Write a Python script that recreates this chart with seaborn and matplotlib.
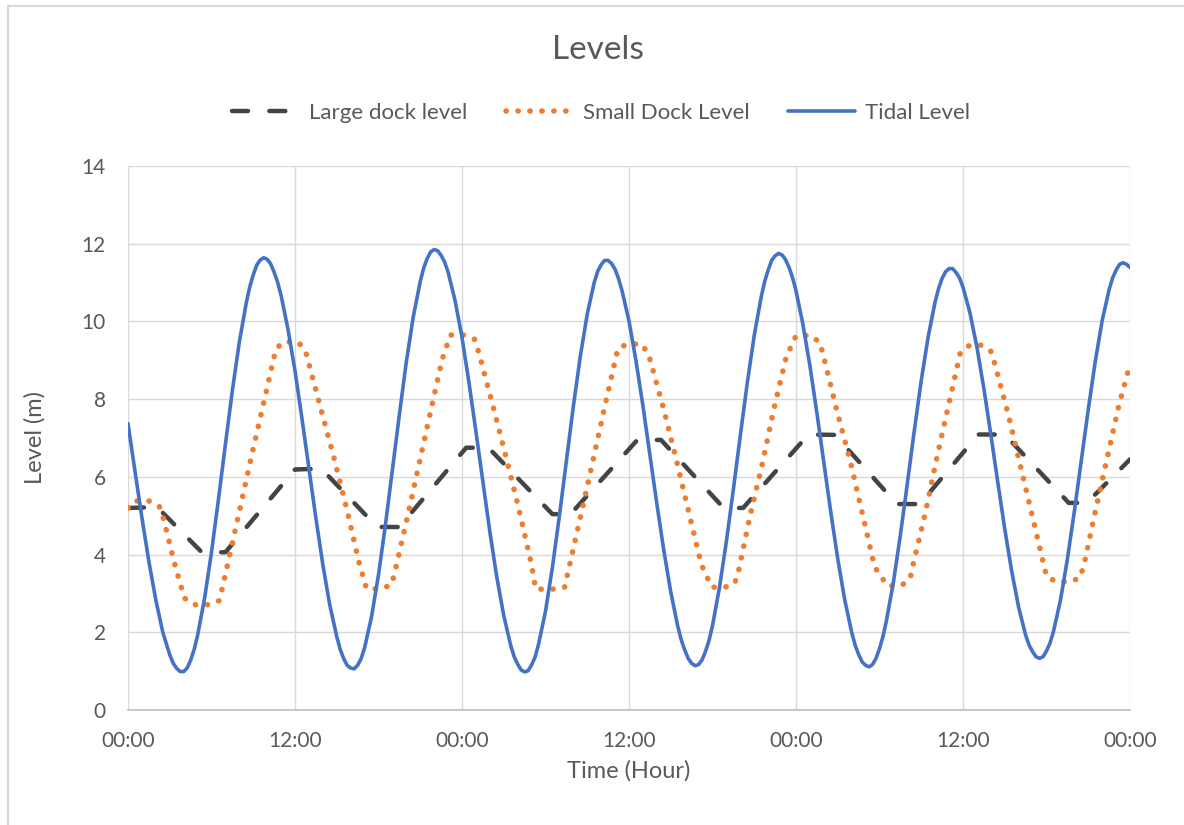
import numpy as np
import pandas as pd
import matplotlib
matplotlib.use("Agg")
import matplotlib.pyplot as plt
from matplotlib.lines import Line2D
import seaborn as sns

# Tidal level (m), one reading every half hour over three days
tide_hours = np.arange(0, 72.5, 0.5)
tide_level = [
    7.37, 6.15, 4.95, 3.82, 2.83, 2.00, 1.42, 1.07, 0.99, 1.28, 1.92, 2.87,
    4.06, 5.42, 6.84, 8.22, 9.47, 10.48, 11.20, 11.58, 11.60, 11.27, 10.67, 9.79,
    8.73, 7.50, 6.22, 4.94, 3.74, 2.70, 1.89, 1.32, 1.08, 1.15, 1.60, 2.40,
    3.48, 4.77, 6.18, 7.60, 8.96, 10.12, 11.03, 11.62, 11.85, 11.70, 11.27, 10.54,
    9.59, 8.43, 7.17, 5.87, 4.59, 3.42, 2.43, 1.66, 1.18, 0.98, 1.16, 1.69,
    2.54, 3.68, 5.00, 6.41, 7.81, 9.10, 10.19, 11.00, 11.46, 11.57, 11.34, 10.79,
    10.01, 8.99, 7.83, 6.58, 5.31, 4.11, 3.04, 2.16, 1.55, 1.20, 1.17, 1.51,
    2.17, 3.15, 4.34, 5.68, 7.07, 8.42, 9.64, 10.63, 11.32, 11.69, 11.71, 11.39,
    10.79, 9.92, 8.86, 7.65, 6.37, 5.09, 3.89, 2.84, 2.00, 1.43, 1.15, 1.17,
    1.58, 2.30, 3.29, 4.50, 5.83, 7.19, 8.48, 9.61, 10.51, 11.11, 11.36, 11.26,
    10.88, 10.22, 9.34, 8.27, 7.09, 5.86, 4.66, 3.57, 2.64, 1.93, 1.50, 1.33,
    1.52, 2.02, 2.82, 3.88, 5.11, 6.42, 7.73, 8.96, 10.02, 10.82, 11.32, 11.51,
    11.39,
]

# Extra quarter-hour readings around each high and low water
tide_extra_hours = [3.25, 3.75, 4.25, 4.75,
                    8.75, 9.25, 9.75, 10.25, 10.75,
                    15.25, 15.75, 16.25, 16.75,
                    21.25, 21.75, 22.25, 22.75,
                    27.75, 28.25, 28.75, 29.25,
                    33.75, 34.25, 34.75, 35.25,
                    39.75, 40.25, 40.75, 41.25, 41.75,
                    45.75, 46.25, 46.75, 47.25, 47.75,
                    52.25, 52.75, 53.25, 53.75, 54.25,
                    58.25, 58.75, 59.25, 59.75,
                    64.75, 65.25, 65.75, 66.25,
                    70.75, 71.25, 71.75]
tide_extra_level = [1.20, 0.99, 1.08, 1.55,
                    10.89, 11.45, 11.64, 11.48, 11.01,
                    1.56, 1.15, 1.06, 1.32,
                    11.38, 11.79, 11.82, 11.53,
                    1.37, 1.03, 1.01, 1.36,
                    11.29, 11.57, 11.49, 11.10,
                    1.81, 1.33, 1.14, 1.29, 1.79,
                    11.03, 11.57, 11.75, 11.59, 11.13,
                    1.67, 1.24, 1.11, 1.33, 1.89,
                    10.85, 11.28, 11.36, 11.12,
                    1.67, 1.37, 1.37, 1.72,
                    11.12, 11.47, 11.47]

# Large dock level (m) at its turning points: holds, then fills or drains
large_hours = [0.0, 2.1, 5.3, 7.0, 12.0, 13.9, 17.9, 19.5, 24.3, 25.9,
               30.5, 31.8, 36.6, 38.3, 42.8, 44.2, 48.9, 50.8, 55.25, 56.9,
               61.1, 63.0, 67.6, 68.9, 72.0]
large_level = [5.20, 5.22, 4.06, 4.06, 6.19, 6.21, 4.71, 4.71, 6.75, 6.75,
               5.04, 5.04, 6.95, 6.95, 5.20, 5.20, 7.09, 7.08, 5.30, 5.30,
               7.09, 7.09, 5.33, 5.33, 6.45]

# Small dock level (m)
small_hours = [0.0, 0.5, 1.5, 2.26, 2.57, 3.27, 3.80, 4.09, 4.78, 5.75,
               6.54, 6.78, 7.20, 8.05, 8.89, 9.76, 10.62, 11.13, 12.24, 12.76,
               13.77, 14.78, 15.72, 16.60, 17.14, 18.15, 18.94, 19.18, 20.05, 20.89,
               21.73, 22.57, 23.17, 24.10, 24.90, 25.20, 26.20, 27.17, 28.10, 28.97,
               29.30, 30.50, 31.37, 31.80, 32.66, 33.50, 34.34, 35.20, 35.90, 36.90,
               37.40, 38.45, 39.40, 40.30, 41.20, 41.95, 42.90, 43.60, 43.90, 44.70,
               45.60, 46.40, 47.30, 48.00, 49.00, 49.70, 49.96, 50.90, 51.90, 52.77,
               53.65, 54.56, 55.57, 56.20, 56.40, 57.30, 58.10, 58.95, 59.80, 60.40,
               61.30, 62.00, 62.30, 63.30, 64.20, 65.10, 66.00, 66.70, 67.70, 68.40,
               68.70, 69.50, 70.35, 71.20, 72.00]
small_level = [5.20, 5.38, 5.38, 5.23, 4.90, 3.87, 3.19, 2.87, 2.71, 2.71,
               2.81, 3.14, 3.82, 5.19, 6.56, 7.92, 9.28, 9.47, 9.47, 9.23,
               7.87, 6.52, 5.17, 3.80, 3.12, 3.12, 3.22, 3.56, 4.92, 6.29,
               7.66, 9.02, 9.65, 9.65, 9.54, 9.21, 7.86, 6.50, 5.15, 3.78,
               3.11, 3.11, 3.16, 3.84, 5.20, 6.57, 7.94, 9.30, 9.42, 9.42,
               9.16, 7.80, 6.44, 5.08, 3.74, 3.16, 3.16, 3.26, 3.62, 5.00,
               6.37, 7.73, 9.09, 9.63, 9.64, 9.47, 9.13, 7.76, 6.40, 5.05,
               3.68, 3.20, 3.20, 3.38, 3.72, 5.08, 6.46, 7.83, 9.18, 9.37,
               9.39, 9.23, 8.89, 7.54, 6.17, 4.81, 3.44, 3.30, 3.30, 3.40,
               3.74, 5.10, 6.47, 7.84, 8.90]

series_names = ["Large dock level", "Small Dock Level", "Tidal Level"]
series_colors = ["#444444", "#ED7D31", "#4472C4"]
hour_ticks = [0, 12, 24, 36, 48, 60, 72]
hour_labels = ["00:00", "12:00", "00:00", "12:00", "00:00", "12:00", "00:00"]
level_ticks = [0, 2, 4, 6, 8, 10, 12, 14]

large_df = pd.DataFrame({"hour": large_hours, "level": large_level})
small_df = pd.DataFrame({"hour": small_hours, "level": small_level})
tide_df = pd.concat([
    pd.DataFrame({"hour": tide_hours, "level": tide_level}),
    pd.DataFrame({"hour": tide_extra_hours, "level": tide_extra_level}),
], ignore_index=True).sort_values("hour")

sns.set_theme(style="white")
plt.rcParams["font.family"] = ["Lato", "DejaVu Sans"]

W, H = 1184, 825
text_color = "#595959"
fig = plt.figure(figsize=(W / 100, H / 100), dpi=100)
fig.patch.set_facecolor("white")
ax = fig.add_axes([128 / W, 1 - 710 / H, (1130 - 128) / W, (710 - 166) / H])

sns.lineplot(data=large_df, x="hour", y="level", ax=ax, color=series_colors[0],
             linewidth=3.2, estimator=None, sort=False, legend=False,
             label=series_names[0])
sns.lineplot(data=small_df, x="hour", y="level", ax=ax, color=series_colors[1],
             linewidth=4.0, estimator=None, sort=False, legend=False,
             label=series_names[1])
sns.lineplot(data=tide_df, x="hour", y="level", ax=ax, color=series_colors[2],
             linewidth=2.6, estimator=None, sort=False, legend=False,
             label=series_names[2])

large_line, small_line, tide_line = ax.lines[:3]
large_line.set_dashes([3.6, 4.8])
large_line.set_dash_capstyle("round")
small_line.set_dashes([0.05, 2.1])
small_line.set_dash_capstyle("round")
tide_line.set_solid_capstyle("round")
tide_line.set_solid_joinstyle("round")

ax.set_xlim(0, 72)
ax.set_ylim(0, 14)
ax.set_xticks(hour_ticks)
ax.set_xticklabels(hour_labels)
ax.set_yticks(level_ticks)
ax.grid(True, color="#D9D9D9", linewidth=1.0)
ax.set_axisbelow(True)
for side in ["top", "right", "left"]:
    ax.spines[side].set_visible(False)
ax.spines["bottom"].set_color("#BFBFBF")
ax.spines["bottom"].set_linewidth(1.2)
ax.tick_params(axis="both", length=0, labelsize=15, labelcolor=text_color)
ax.tick_params(axis="x", pad=15)
ax.tick_params(axis="y", pad=16)

ax.set_xlabel("Time (Hour)", fontsize=17, color=text_color)
ax.set_ylabel("Level (m)", fontsize=17, color=text_color)
ax.xaxis.set_label_coords(0.5, -0.092)
ax.yaxis.set_label_coords(-0.082, 0.5)

fig.text(598 / W, 1 - 50 / H, "Levels", ha="center", va="center",
         fontsize=24, color=text_color)

fig.legend(handles=[large_line, small_line, tide_line], labels=series_names,
           loc="center", bbox_to_anchor=(601 / W, 1 - 113 / H), ncol=3,
           frameon=False, fontsize=16, handlelength=3.0, handletextpad=0.45,
           columnspacing=1.75, labelcolor=text_color)

# chart-area border along the left and top edges
border = "#D9D9D9"
fig.add_artist(Line2D([8 / W, 8 / W], [0, 1 - 6 / H], transform=fig.transFigure,
                      color=border, linewidth=1.5))
fig.add_artist(Line2D([8 / W, 1], [1 - 6 / H, 1 - 6 / H], transform=fig.transFigure,
                      color=border, linewidth=1.5))

fig.savefig("out.png", dpi=100, facecolor="white")
